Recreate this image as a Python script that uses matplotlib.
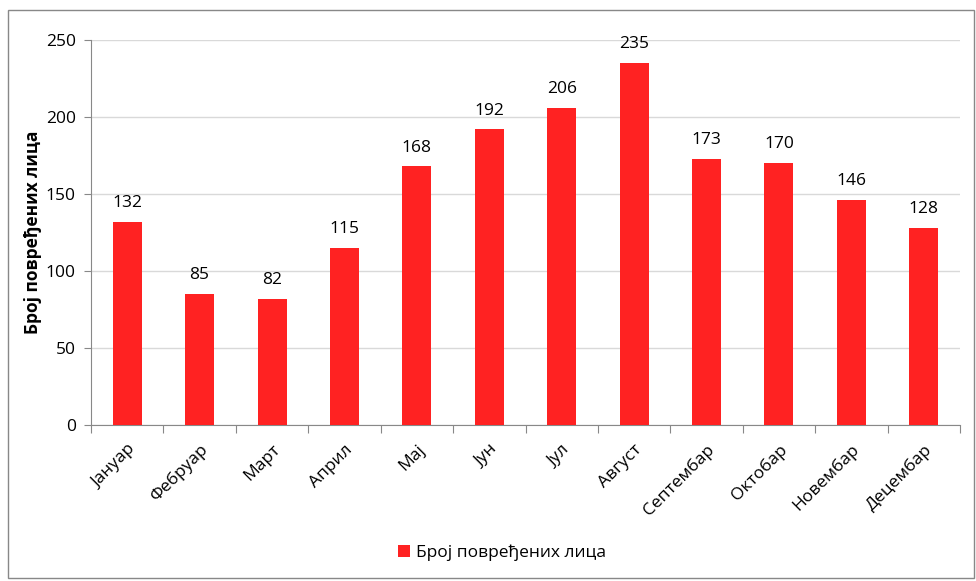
import numpy as np
import matplotlib.pyplot as plt
from matplotlib.patches import Rectangle

plt.rcParams['font.family'] = ['Open Sans', 'DejaVu Sans']

# број повређених лица по месецима
meseci = ['Јануар', 'Фебруар', 'Март', 'Април', 'Мај', 'Јун', 'Јул',
          'Август', 'Септембар', 'Октобар', 'Новембар', 'Децембар']
povredjeni = [132, 85, 82, 115, 168, 192, 206, 235, 173, 170, 146, 128]
naziv = 'Број повређених лица'

fig = plt.figure(figsize=(9.76, 5.81), dpi=100)
ax = fig.add_axes([91/976, 1 - 425/581, (960-91)/976, (425-40)/581])

x = np.arange(len(meseci))
bars = ax.bar(x, povredjeni, width=0.4, color='#ff2222', label=naziv, zorder=3)

for xi, v in zip(x, povredjeni):
    ax.text(xi, v + 7, str(v), ha='center', va='bottom', fontsize=12.5, color='black')

ax.set_xlim(-0.5, len(meseci) - 0.5)
ax.set_ylim(0, 250)
ax.set_yticks(np.arange(0, 251, 50))
ax.tick_params(axis='y', labelsize=12.5, length=5, color='#888888', direction='out', pad=6)
ax.yaxis.grid(True, color='#d9d9d9', linewidth=1, zorder=0)

# ознаке између стубова, називи месеци испод центра
ax.set_xticks(np.arange(-0.5, len(meseci), 1))
ax.set_xticklabels([])
ax.set_xticks(x, minor=True)
ax.set_xticklabels(meseci, minor=True, rotation=45, ha='right', rotation_mode='anchor', fontsize=12.5)
ax.tick_params(axis='x', which='major', length=6, color='#888888')
ax.tick_params(axis='x', which='minor', length=0, pad=12)

for s in ['top', 'right']:
    ax.spines[s].set_visible(False)
for s in ['left', 'bottom']:
    ax.spines[s].set_color('#888888')

ax.set_ylabel(naziv, fontsize=12.5, fontweight='bold', labelpad=3)

fig.legend(handles=[bars], labels=[naziv], loc='center', bbox_to_anchor=(502/976, 1 - 553/581),
           frameon=False, fontsize=12.5, handlelength=0.7, handleheight=0.7, handletextpad=0.3)

fig.patches.append(Rectangle((8/976, 3/581), 1 - 10/976, 1 - 13/581, transform=fig.transFigure,
                             fill=False, edgecolor='#888888', linewidth=1))

fig.savefig('out.png', dpi=100)
